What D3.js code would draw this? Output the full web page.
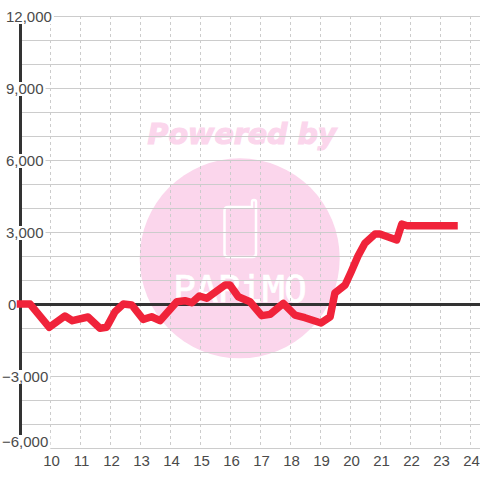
<!DOCTYPE html>
<html lang="en">
  <head>
    <meta charset="UTF-8" />
    <title>Intraday line</title>
    <script src="https://d3js.org/d3.v7.min.js"></script>
    <style>
      body {
        margin: 0;
        background: #fff;
      }
    </style>
  </head>
  <body>
    <svg id="svg" width="480" height="480" font-family="Liberation Sans"></svg>

    <script>
      // hour of day and value
      const hours = [9, 9.32, 9.96, 10.48, 10.73, 11.25, 11.65, 11.87, 12.15, 12.43, 12.71, 13.09, 13.37, 13.65, 14.21, 14.48, 14.71, 14.96, 15.21, 15.82, 15.98, 16.26, 16.65, 17.04, 17.32, 17.76, 18.15, 18.48, 19.02, 19.32, 19.48, 19.82, 20.02, 20.25, 20.48, 20.82, 20.98, 21.54, 21.71, 21.89, 23.45];
      const values = [20, 20, -950, -480, -675, -520, -990, -950, -300, 20, -20, -620, -510, -675, 115, 160, 75, 355, 260, 810, 810, 325, 115, -465, -410, 50, -440, -550, -770, -520, 480, 810, 1355, 2020, 2550, 2940, 2940, 2690, 3350, 3280, 3280];

      const yTicks = [-6000, -3000, 0, 3000, 6000, 9000, 12000];
      const yGrid = d3.range(-6000, 12001, 1000);
      const xTicks = [10, 11, 12, 13, 14, 15, 16, 17, 18, 19, 20, 21, 22, 23, 24];

      const svg = d3.select("#svg");
      const x = d3.scaleLinear().domain([9, 25]).range([20.5, 500.5]);
      const y = d3.scaleLinear().domain([-6000, 12000]).range([448.5, 16.5]);

      // watermark
      const pink = "#fbd6ec";
      const mark = svg.append("g");
      mark
        .append("circle")
        .attr("cx", 239.7)
        .attr("cy", 258.3)
        .attr("r", 100)
        .attr("fill", pink);
      mark
        .append("text")
        .attr("x", 242)
        .attr("y", 144)
        .attr("text-anchor", "middle")
        .attr("font-family", "DejaVu Sans")
        .attr("font-size", 28.5)
        .attr("font-weight", "bold")
        .attr("font-style", "italic")
        .attr("fill", pink)
        .attr("stroke", pink)
        .attr("stroke-width", 1.2)
        .text("Powered by");
      mark
        .append("path")
        .attr(
          "d",
          "M252,207 L228,207 Q224.5,207 224.5,210.5 L224.5,253.5 Q224.5,257 228,257 L252.5,257 Q256,257 256,253.5 L256,202 Q256,200 254,200 Q252,200 252,202 Z"
        )
        .attr("fill", "none")
        .attr("stroke", "#fff")
        .attr("stroke-width", 2.5);
      mark
        .append("text")
        .attr("x", 240)
        .attr("y", 302)
        .attr("text-anchor", "middle")
        .attr("font-family", "DejaVu Sans Mono")
        .attr("font-size", 38)
        .attr("textLength", 134)
        .attr("lengthAdjust", "spacing")
        .attr("fill", "#fff")
        .attr("stroke", "#fff")
        .attr("stroke-width", 0.7)
        .text("PAPiMO");

      // grid
      svg
        .append("g")
        .selectAll("line")
        .data(yGrid)
        .enter()
        .append("line")
        .attr("x1", 20)
        .attr("x2", 480)
        .attr("y1", (d) => y(d))
        .attr("y2", (d) => y(d))
        .attr("stroke", "#ccc");
      svg
        .append("g")
        .selectAll("line")
        .data(xTicks)
        .enter()
        .append("line")
        .attr("x1", (d) => x(d))
        .attr("x2", (d) => x(d))
        .attr("y1", 16)
        .attr("y2", 448)
        .attr("stroke", "#ccc")
        .attr("stroke-dasharray", "3,3");

      // axes
      svg
        .append("line")
        .attr("x1", 20.5)
        .attr("x2", 20.5)
        .attr("y1", 16)
        .attr("y2", 448)
        .attr("stroke", "#333")
        .attr("stroke-width", 3);
      svg
        .append("line")
        .attr("x1", 20)
        .attr("x2", 480)
        .attr("y1", y(0))
        .attr("y2", y(0))
        .attr("stroke", "#333")
        .attr("stroke-width", 3);

      // line
      const line = d3
        .line()
        .x((d, i) => x(hours[i]))
        .y((d) => y(d));
      svg
        .append("path")
        .attr("d", line(values))
        .attr("fill", "none")
        .attr("stroke", "#f0233a")
        .attr("stroke-width", 7.5)
        .attr("stroke-linecap", "square")
        .attr("stroke-linejoin", "round");

      // y labels sit on a white box that cuts the axis and the grid
      const yLabel = svg.append("g").selectAll("g").data(yTicks).enter().append("g");
      const labelY = (d) => (d === -6000 ? y(d) - 1.5 : y(d) + 5.5);
      const labelX = (d) => (d < 0 ? 2 : d === 0 ? 8 : 6);
      yLabel
        .append("text")
        .attr("x", labelX)
        .attr("y", labelY)
        .attr("font-size", 15)
        .attr("fill", "#4a4a4a")
        .text((d) => d3.format(",")(d));
      yLabel
        .filter((d) => d !== 0)
        .insert("rect", "text")
        .attr("x", labelX)
        .attr("y", (d) => labelY(d) - 12)
        .attr("width", (d, i, n) => n[i].parentNode.querySelector("text").getComputedTextLength() + 2)
        .attr("height", 14)
        .attr("fill", "#fff");

      svg
        .append("g")
        .selectAll("text")
        .data(xTicks)
        .enter()
        .append("text")
        .attr("x", (d) => x(d) + 1)
        .attr("y", 466)
        .attr("text-anchor", "middle")
        .attr("font-size", 15)
        .attr("fill", "#4a4a4a")
        .text((d) => d);
    </script>
  </body>
</html>
